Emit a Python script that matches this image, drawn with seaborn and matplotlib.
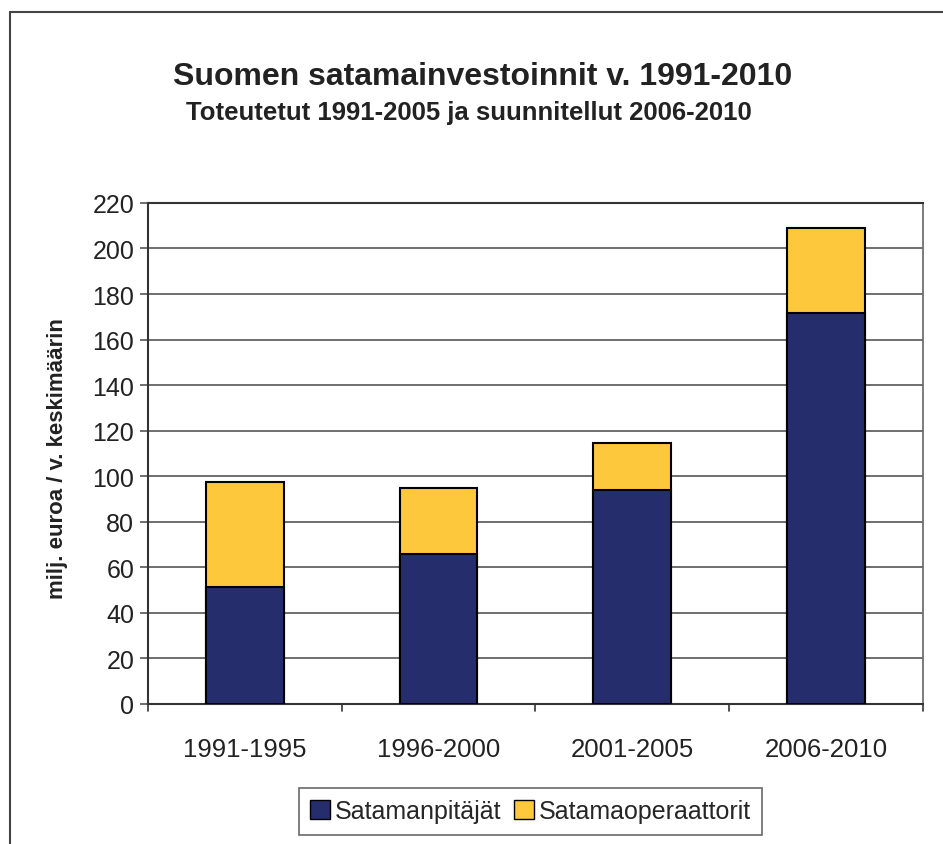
import pandas as pd
import matplotlib.pyplot as plt
import seaborn as sns
from matplotlib.patches import Patch
from matplotlib.lines import Line2D

# Data
periods = ['1991-1995', '1996-2000', '2001-2005', '2006-2010']
pitajat = [51.5, 66, 94, 171.5]       # Satamanpitäjät
operaattorit = [46, 29, 20.5, 37.5]   # Satamaoperaattorit

navy = '#262d6c'
yellow = '#fdc83c'

df = pd.DataFrame({
    'Jakso': periods,
    'Satamanpitäjät': pitajat,
    'Satamaoperaattorit': operaattorit,
})
df['Yhteensä'] = df['Satamanpitäjät'] + df['Satamaoperaattorit']

sns.set_theme(style='white')
plt.rcParams['font.family'] = ['Liberation Sans', 'DejaVu Sans']

fig = plt.figure(figsize=(9.43, 8.45), dpi=100)
ax = fig.add_axes([0.157, 0.1657, 0.8215, 0.593])

# stacked bars: total in yellow, lower part in navy on top of it
sns.barplot(data=df, x='Jakso', y='Yhteensä', color=yellow, width=0.4,
            edgecolor='black', linewidth=1.5, saturation=1, ax=ax, zorder=3)
sns.barplot(data=df, x='Jakso', y='Satamanpitäjät', color=navy, width=0.4,
            edgecolor='black', linewidth=1.5, saturation=1, ax=ax, zorder=3)

ax.set_xlim(-0.5, 3.5)
ax.set_ylim(0, 220)
ax.set_yticks(range(0, 221, 20))
ax.yaxis.grid(True, color='#555555', linewidth=1.2, zorder=0)
ax.set_axisbelow(True)

# Excel-style ticks between categories
ax.set_xticks(range(4))
ax.set_xticklabels(periods, fontsize=18.5, color='#222222')
ax.tick_params(axis='x', length=0, pad=24)
for xb in [-0.5, 0.5, 1.5, 2.5, 3.5]:
    ax.plot([xb, xb], [0, -3], color='#333333', lw=1.2, clip_on=False)
ax.tick_params(axis='y', labelsize=18, labelcolor='#222222', left=True,
               length=6, width=1.2, color='#555555', direction='out', pad=4)

for s in ax.spines.values():
    s.set_visible(True)
    s.set_color('#333333')
    s.set_linewidth(1.5)
ax.spines['right'].set_color('#666666')
ax.spines['right'].set_linewidth(1.2)

ax.set_xlabel('')
ax.set_ylabel('milj. euroa / v. keskimäärin', fontsize=16, fontweight='bold',
              color='#222222', va='center')
ax.yaxis.set_label_coords(-0.117, 0.491)

fig.text(0.512, 0.909, 'Suomen satamainvestoinnit v. 1991-2010', ha='center',
         va='center', fontsize=23, fontweight='bold', color='#222222')
fig.text(0.497, 0.866, 'Toteutetut 1991-2005 ja suunnitellut 2006-2010',
         ha='center', va='center', fontsize=18.5, fontweight='bold', color='#222222')

handles = [Patch(facecolor=navy, edgecolor='black', label='Satamanpitäjät'),
           Patch(facecolor=yellow, edgecolor='black', label='Satamaoperaattorit')]
leg = fig.legend(handles=handles, loc='center', bbox_to_anchor=(0.5625, 0.0385),
                 ncol=2, fontsize=18, frameon=True, fancybox=False,
                 handlelength=0.8, handleheight=0.8, handletextpad=0.2,
                 columnspacing=0.5, borderpad=0.45)
leg.get_frame().set_edgecolor('#444444')
leg.get_frame().set_linewidth(1.2)

# outer chart frame (right and bottom edges are cut off in the original)
fig.add_artist(Line2D([10 / 943, 10 / 943], [0, 1 - 13 / 845],
                      transform=fig.transFigure, color='#444444', lw=1.5))
fig.add_artist(Line2D([10 / 943, 1], [1 - 13 / 845, 1 - 13 / 845],
                      transform=fig.transFigure, color='#444444', lw=1.5))

fig.savefig('out.png', dpi=100)
